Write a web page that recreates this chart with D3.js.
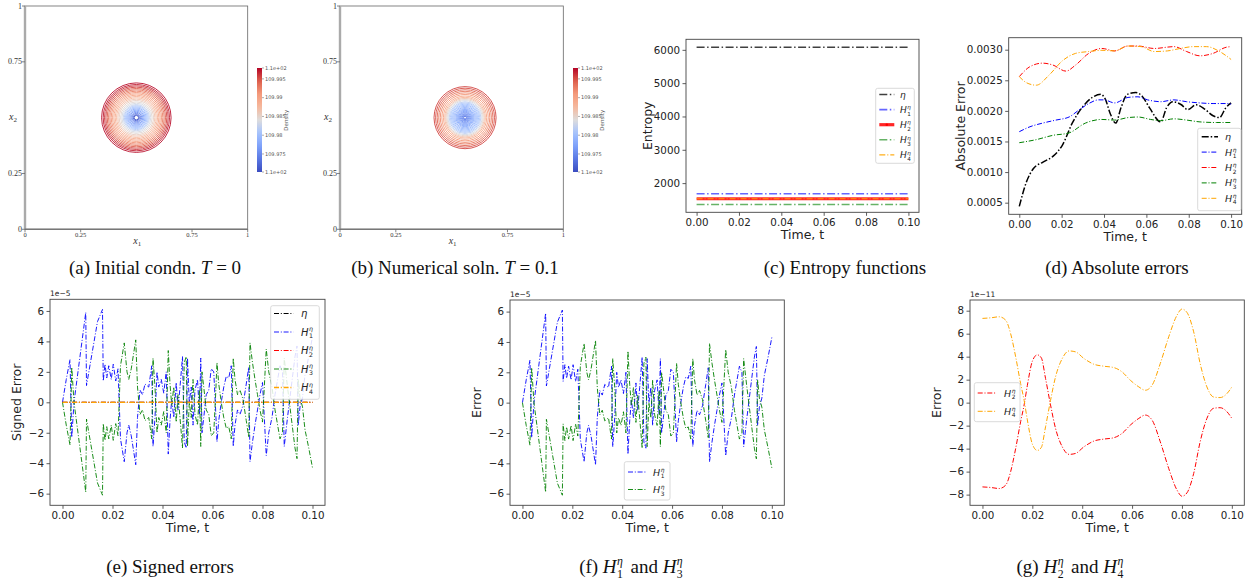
<!DOCTYPE html>
<html>
<head>
<meta charset="utf-8">
<script src="https://cdn.jsdelivr.net/npm/d3@7"></script>
<style>
  body { margin: 0; background: #fff; }
  text { font-family: "DejaVu Sans", sans-serif; }
</style>
</head>
<body>
<div id="fig"></div>
<script>
// ---------- data ----------
// (a)/(b) density contours: ring radius (domain units) and level
const ringsInitR = [0.156, 0.149, 0.143, 0.137, 0.131, 0.125, 0.119, 0.113, 0.107, 0.101, 0.095, 0.089, 0.083, 0.077, 0.071, 0.065, 0.059, 0.054, 0.049, 0.044, 0.039, 0.034, 0.029, 0.024, 0.019, 0.014, 0.010];
const ringsInitL = [109.9975, 109.997, 109.9962, 109.9955, 109.9945, 109.9935, 109.9925, 109.9915, 109.9905, 109.9895, 109.9885, 109.9875, 109.9865, 109.9855, 109.9845, 109.9835, 109.9825, 109.9815, 109.9805, 109.9795, 109.9785, 109.9775, 109.9765, 109.9755, 109.974, 109.9725, 109.971];
const ringsNumR = [0.139, 0.132, 0.125, 0.118, 0.111, 0.104, 0.097, 0.091, 0.086, 0.081, 0.076, 0.071, 0.066, 0.061, 0.056, 0.051, 0.046, 0.041, 0.037, 0.033, 0.029, 0.025, 0.021, 0.017, 0.013, 0.009, 0.006];
const ringsNumL = [109.9955, 109.995, 109.994, 109.993, 109.992, 109.991, 109.9895, 109.988, 109.9865, 109.985, 109.9835, 109.982, 109.9812, 109.9805, 109.980, 109.9795, 109.979, 109.9785, 109.978, 109.9775, 109.977, 109.9765, 109.976, 109.9755, 109.975, 109.9745, 109.974];
const centreInit = [0.5, 0.5];
const centreNum = [0.56, 0.5];
const cbarTicks = [109.975, 109.98, 109.985, 109.99, 109.995];
const cbarLabels = ["109.975", "109.98", "109.985", "109.99", "109.995"];
const cbarRange = [109.9702, 109.9979];
const unitTicks = [0, 0.25, 0.75, 1];
const unitLabels = ["0", "0.25", "0.75", "1"];

// (c) entropy functions (constant in time)
const tEntropy = [0, 0.1];
const entEta = [6080, 6080];
const entH1 = [1680, 1680];
const entH2 = [1530, 1530];
const entH3 = [1360, 1360];
const entH4 = [1530, 1530];

// (d) absolute errors [t, err]
const absEta = [[0,0.00044],[0.0035,0.00085],[0.0065,0.00105],[0.011,0.00116],[0.016,0.00126],[0.0205,0.00145],[0.025,0.0018],[0.030,0.00207],[0.0345,0.00222],[0.0385,0.00227],[0.0405,0.0022],[0.043,0.00195],[0.0455,0.0018],[0.048,0.00205],[0.051,0.00227],[0.055,0.0023],[0.058,0.00224],[0.0615,0.00205],[0.0668,0.00182],[0.0695,0.00205],[0.0725,0.00215],[0.0765,0.0021],[0.0795,0.00202],[0.0835,0.0021],[0.0875,0.00203],[0.0915,0.00192],[0.0945,0.00189],[0.0975,0.00205],[0.1,0.00213]];
const absH1 = [[0,0.00166],[0.005,0.00174],[0.011,0.0018],[0.0173,0.00185],[0.0235,0.0019],[0.028,0.00201],[0.0328,0.00212],[0.0374,0.00218],[0.040,0.00218],[0.045,0.00213],[0.0513,0.00222],[0.056,0.00223],[0.0606,0.00218],[0.0668,0.00215],[0.073,0.00218],[0.079,0.00215],[0.0853,0.00213],[0.0915,0.00212],[0.0977,0.00212],[0.1,0.00211]];
const absH2 = [[0,0.00256],[0.0049,0.00272],[0.011,0.00278],[0.0158,0.00275],[0.022,0.00265],[0.0266,0.00275],[0.0328,0.00294],[0.039,0.00302],[0.045,0.00298],[0.0513,0.00306],[0.056,0.00306],[0.0637,0.00302],[0.073,0.00305],[0.079,0.00297],[0.0853,0.0029],[0.0915,0.00294],[0.0977,0.00304],[0.1,0.00305]];
const absH3 = [[0,0.00148],[0.008,0.00153],[0.0158,0.0016],[0.0235,0.00164],[0.0312,0.0018],[0.039,0.00186],[0.045,0.00185],[0.0513,0.00189],[0.056,0.0019],[0.062,0.00186],[0.0668,0.00184],[0.073,0.00187],[0.079,0.00185],[0.0853,0.00182],[0.093,0.00181],[0.1,0.00181]];
const absH4 = [[0,0.00256],[0.0034,0.00246],[0.008,0.00242],[0.0142,0.00259],[0.0204,0.00282],[0.0266,0.00294],[0.0328,0.00297],[0.039,0.00299],[0.045,0.00298],[0.0513,0.00306],[0.0575,0.00305],[0.0637,0.00297],[0.0699,0.00298],[0.076,0.00302],[0.0822,0.00305],[0.0884,0.00305],[0.0946,0.00297],[0.1,0.00284]];

// (e)/(f) signed errors of H1 and H3, units of 1e-5
const sgnH1 = [[0,0],[0.0015,1.5],[0.003,2.8],[0.0037,-2.3],[0.0046,0],[0.0093,5.9],[0.0096,1.1],[0.014,5.3],[0.016,6.1],[0.0163,1.4],[0.017,2.5],[0.0177,1.6],[0.0185,2.4],[0.0195,1.5],[0.0203,2.5],[0.0213,1.4],[0.0222,2.2],[0.0232,-2.4],[0.0247,-3.9],[0.0258,-2.0],[0.0265,-1.5],[0.0275,-2.2],[0.0293,-4.1],[0.030,-1.0],[0.031,0.8],[0.032,0.5],[0.033,1.2],[0.0345,1.0],[0.0357,2.4],[0.0362,-2.9],[0.037,-1.0],[0.0378,2.0],[0.0385,1.0],[0.0395,1.5],[0.0405,0.6],[0.0415,2.0],[0.0423,-3.4],[0.043,-1.2],[0.0437,0.2],[0.0445,-1.0],[0.0455,1.3],[0.0462,-0.5],[0.047,1.0],[0.048,3.0],[0.0487,-2.6],[0.0495,-3.0],[0.050,2.9],[0.0507,0.0],[0.0515,1.0],[0.0522,-1.5],[0.053,0.8],[0.054,1.5],[0.0548,-0.8],[0.0553,2.9],[0.0558,-2.0],[0.0565,-1.0],[0.0575,0.5],[0.0585,0.8],[0.0595,2.2],[0.0605,2.0],[0.0612,-0.3],[0.0618,-2.6],[0.0625,-1.2],[0.0635,0.0],[0.0645,1.0],[0.0655,1.7],[0.0665,1.6],[0.0675,2.4],[0.0683,-2.9],[0.069,-1.5],[0.070,-0.5],[0.071,-0.8],[0.0722,-0.2],[0.0735,1.2],[0.0745,2.3],[0.075,-3.9],[0.076,-2.6],[0.077,-1.5],[0.078,-0.5],[0.079,0.5],[0.080,1.3],[0.0815,-3.5],[0.0825,-2.0],[0.0838,-1.0],[0.085,0.5],[0.087,2.4],[0.088,2.0],[0.0887,-2.9],[0.090,-1.0],[0.0915,1.0],[0.093,3.0],[0.0938,3.7],[0.0943,-1.5],[0.095,-0.3],[0.096,0.3],[0.097,1.8],[0.0985,3.0],[0.1,4.3]];
const sgnH3 = [[0,0],[0.0015,-1.5],[0.003,-2.8],[0.0037,2.3],[0.0046,0],[0.0093,-5.9],[0.0096,-1.1],[0.014,-5.3],[0.016,-6.1],[0.0163,-1.4],[0.017,-2.5],[0.0177,-1.6],[0.0185,-2.4],[0.0195,-1.5],[0.0203,-2.5],[0.0213,-1.4],[0.0222,-2.2],[0.0232,2.4],[0.0247,3.9],[0.0258,2.0],[0.0265,1.5],[0.0275,2.2],[0.0293,4.1],[0.030,1.0],[0.031,-0.8],[0.032,-0.5],[0.033,-1.2],[0.0345,-1.0],[0.0357,-2.4],[0.0362,2.9],[0.037,1.0],[0.0378,-2.0],[0.0385,-1.0],[0.0395,-1.5],[0.0405,-0.6],[0.0415,-2.0],[0.0423,3.4],[0.043,1.2],[0.0437,-0.2],[0.0445,1.0],[0.0455,-1.3],[0.0462,0.5],[0.047,-1.0],[0.048,-3.0],[0.0487,2.6],[0.0495,3.0],[0.050,-2.9],[0.0507,0.0],[0.0515,-1.0],[0.0522,1.5],[0.053,-0.8],[0.054,-1.5],[0.0548,0.8],[0.0553,-2.9],[0.0558,2.0],[0.0565,1.0],[0.0575,-0.5],[0.0585,-0.8],[0.0595,-2.2],[0.0605,-2.0],[0.0612,0.3],[0.0618,2.6],[0.0625,1.2],[0.0635,0.0],[0.0645,-1.0],[0.0655,-1.7],[0.0665,-1.6],[0.0675,-2.4],[0.0683,2.9],[0.069,1.5],[0.070,0.5],[0.071,0.8],[0.0722,0.2],[0.0735,-1.2],[0.0745,-2.3],[0.075,3.9],[0.076,2.6],[0.077,1.5],[0.078,0.5],[0.079,-0.5],[0.080,-1.3],[0.0815,3.5],[0.0825,2.0],[0.0838,1.0],[0.085,-0.5],[0.087,-2.4],[0.088,-2.0],[0.0887,2.9],[0.090,1.0],[0.0915,-1.0],[0.093,-3.0],[0.0938,-3.7],[0.0943,1.5],[0.095,0.3],[0.096,-0.3],[0.097,-1.8],[0.0985,-3.0],[0.1,-4.3]];
// signed error of eta, units of 1e-5
const sgnEta = [[0,0],[0.05,0],[0.1,0]];

// (g) signed errors of H2 and H4, units of 1e-11
const sgnH2 = [[0,-7.33],[0.0033,-7.38],[0.0067,-7.47],[0.0093,-7.18],[0.0113,-6.0],[0.0133,-4.0],[0.0153,-1.66],[0.0167,-0.2],[0.018,1.5],[0.020,3.6],[0.022,4.16],[0.0236,3.9],[0.0253,2.1],[0.0273,-0.2],[0.0293,-2.24],[0.032,-3.84],[0.0347,-4.5],[0.0373,-4.42],[0.0407,-3.84],[0.0447,-3.34],[0.0487,-3.17],[0.0527,-3.05],[0.056,-2.67],[0.0593,-1.95],[0.0627,-1.37],[0.0653,-1.08],[0.068,-1.51],[0.0713,-3.4],[0.0747,-5.73],[0.078,-7.6],[0.080,-8.14],[0.082,-7.85],[0.0847,-6.16],[0.0873,-3.4],[0.090,-1.37],[0.0927,-0.49],[0.0953,-0.44],[0.098,-0.78],[0.1,-1.37]];
const sgnH4 = [[0,7.33],[0.0033,7.38],[0.0067,7.47],[0.0093,7.18],[0.0113,6.0],[0.0133,4.0],[0.0153,1.66],[0.0167,0.2],[0.018,-1.5],[0.020,-3.6],[0.022,-4.16],[0.0236,-3.9],[0.0253,-2.1],[0.0273,0.2],[0.0293,2.24],[0.032,3.84],[0.0347,4.5],[0.0373,4.42],[0.0407,3.84],[0.0447,3.34],[0.0487,3.17],[0.0527,3.05],[0.056,2.67],[0.0593,1.95],[0.0627,1.37],[0.0653,1.08],[0.068,1.51],[0.0713,3.4],[0.0747,5.73],[0.078,7.6],[0.080,8.14],[0.082,7.85],[0.0847,6.16],[0.0873,3.4],[0.090,1.37],[0.0927,0.49],[0.0953,0.44],[0.098,0.78],[0.1,1.37]];

const timeTicks = [0, 0.02, 0.04, 0.06, 0.08, 0.1];

// ---------- setup ----------
const svg = d3.select("#fig").append("svg")
  .attr("width", 1255).attr("height", 583)
  .style("display", "block");

// coolwarm-like diverging map over the colour bar range
const cwStops = ["#3b4cc0", "#5a78e4", "#7ea1fa", "#a5c3fe", "#dddcdc", "#f6b89c", "#f49a7b", "#de604d", "#b40426"];
const coolwarm = d3.scaleLinear()
  .domain(cwStops.map((c, i) => cbarRange[0] + i / (cwStops.length - 1) * (cbarRange[1] - cbarRange[0])))
  .range(cwStops)
  .interpolate(d3.interpolateRgb);

let clipId = 0;
const serif = "'Liberation Serif', 'DejaVu Serif', serif";

// H^eta_n in matplotlib mathtext style, returns right edge
function mathH(g, x, y, n, fs, fam, col) {
  let h = g.append("text").attr("x", x).attr("y", y)
    .style("font-family", fam).style("font-style", "italic")
    .style("font-size", fs + "px").attr("fill", col || "#222").text("H");
  let w = h.node().getComputedTextLength();
  g.append("text").attr("x", x + w + 0.5).attr("y", y - fs * 0.42)
    .style("font-family", fam).style("font-style", "italic")
    .style("font-size", fs * 0.62 + "px").attr("fill", col || "#222").text("η");
  g.append("text").attr("x", x + w + 0.5).attr("y", y + fs * 0.28)
    .style("font-family", fam)
    .style("font-size", fs * 0.62 + "px").attr("fill", col || "#222").text(n);
  return x + w + 0.5 + fs * 0.4;
}

// ---------- contour panels (a), (b) ----------
function contourPanel(cfg) {
  const g = svg.append("g");
  const x = d3.scaleLinear().domain([0, 1]).range([cfg.left, cfg.right]);
  const y = d3.scaleLinear().domain([0, 1]).range([cfg.bottom, cfg.top]);

  g.selectAll("circle.ring").data(cfg.radii).join("circle")
    .attr("class", "ring")
    .attr("cx", x(cfg.centre[0])).attr("cy", y(cfg.centre[1]))
    .attr("r", d => x(d) - x(0))
    .attr("fill", "none")
    .attr("stroke", (d, i) => coolwarm(cfg.levels[i]))
    .attr("stroke-width", 0.9);

  g.append("rect")
    .attr("x", x(0)).attr("y", y(1))
    .attr("width", x(1) - x(0)).attr("height", y(0) - y(1))
    .attr("fill", "none").attr("stroke", "#666").attr("stroke-width", 0.8);
  g.append("line").attr("x1", x(0)).attr("x2", x(0)).attr("y1", y(1)).attr("y2", y(0))
    .attr("stroke", "#aaa").attr("stroke-width", 2.4);
  g.append("line").attr("x1", x(0)).attr("x2", x(1)).attr("y1", y(0)).attr("y2", y(0))
    .attr("stroke", "#777").attr("stroke-width", 1.4);

  // ticks
  unitTicks.forEach((v, i) => {
    g.append("line").attr("x1", x(0) - 3).attr("x2", x(0)).attr("y1", y(v)).attr("y2", y(v))
      .attr("stroke", "#666").attr("stroke-width", 0.8);
    g.append("text").attr("x", x(0) - 3).attr("y", y(v) + 2.5)
      .attr("text-anchor", "end").style("font-family", serif).style("font-size", "8px")
      .attr("fill", "#333").text(unitLabels[i]);
    g.append("line").attr("x1", x(v)).attr("x2", x(v)).attr("y1", y(0)).attr("y2", y(0) + 3)
      .attr("stroke", "#666").attr("stroke-width", 0.8);
    g.append("text").attr("x", x(v)).attr("y", y(0) + 8)
      .attr("text-anchor", "middle").style("font-family", serif).style("font-size", "6.5px")
      .attr("fill", "#333").text(unitLabels[i]);
  });
  // axis names
  let t1 = g.append("text").attr("x", (x(0) + x(1)) / 2 - 3).attr("y", y(0) + 15)
    .style("font-family", serif).style("font-size", "10px").attr("fill", "#333");
  t1.append("tspan").style("font-style", "italic").text("x");
  t1.append("tspan").attr("dy", 2).style("font-size", "7px").text("1");
  let t2 = g.append("text").attr("x", x(0) - 16).attr("y", y(0.5) + 2)
    .style("font-family", serif).style("font-size", "10px").attr("fill", "#333");
  t2.append("tspan").style("font-style", "italic").text("x");
  t2.append("tspan").attr("dy", 2).style("font-size", "7px").text("2");

  // colour bar
  const cb = d3.scaleLinear().domain(cbarRange).range([172, 68]);
  const gid = "cbgrad" + cfg.id;
  const grad = svg.append("defs").append("linearGradient").attr("id", gid)
    .attr("x1", 0).attr("x2", 0).attr("y1", 1).attr("y2", 0);
  d3.range(0, 1.0001, 0.05).forEach(f => {
    grad.append("stop").attr("offset", f)
      .attr("stop-color", coolwarm(cbarRange[0] + f * (cbarRange[1] - cbarRange[0])));
  });
  g.append("rect").attr("x", cfg.cbx).attr("y", cb(cbarRange[1]))
    .attr("width", 5).attr("height", cb(cbarRange[0]) - cb(cbarRange[1]))
    .attr("fill", `url(#${gid})`);
  const cbLab = [[cbarRange[1], "1.1e+02"]].concat(cbarTicks.map((v, i) => [v, cbarLabels[i]]), [[cbarRange[0], "1.1e+02"]]);
  cbLab.forEach(([v, lab]) => {
    g.append("line").attr("x1", cfg.cbx + 5).attr("x2", cfg.cbx + 7).attr("y1", cb(v)).attr("y2", cb(v))
      .attr("stroke", "#777").attr("stroke-width", 0.6);
    g.append("text").attr("x", cfg.cbx + 8).attr("y", cb(v) + 1.8)
      .style("font-size", "5px").attr("fill", "#555").text(lab);
  });
  g.append("text").attr("transform", `translate(${cfg.cbx + 31},${cb(109.984)}) rotate(-90)`)
    .attr("text-anchor", "middle").style("font-size", "5.5px").attr("fill", "#555").text("Density");
}

contourPanel({ id: "a", left: 25, right: 247.7, top: 6, bottom: 229.3, centre: centreInit,
  radii: ringsInitR, levels: ringsInitL, cbx: 257 });
contourPanel({ id: "b", left: 340, right: 563.3, top: 6, bottom: 229.3, centre: centreNum,
  radii: ringsNumR, levels: ringsNumL, cbx: 573 });

// ---------- matplotlib-like line panels ----------
function linePanel(cfg) {
  const g = svg.append("g");
  const x = d3.scaleLinear().domain([-0.005, 0.105]).range([cfg.left, cfg.right]);
  const y = d3.scaleLinear().domain(cfg.ydom).range([cfg.bottom, cfg.top]);
  const cid = "clip" + (clipId++);
  svg.append("defs").append("clipPath").attr("id", cid).append("rect")
    .attr("x", cfg.left).attr("y", cfg.top)
    .attr("width", cfg.right - cfg.left).attr("height", cfg.bottom - cfg.top);

  const ax = g.append("g").attr("transform", `translate(0,${cfg.bottom})`)
    .call(d3.axisBottom(x).tickValues(timeTicks).tickFormat(d3.format(".2f"))
      .tickSize(3.5).tickPadding(2.5));
  const ay = g.append("g").attr("transform", `translate(${cfg.left},0)`)
    .call(d3.axisLeft(y).tickValues(cfg.yticks).tickFormat(cfg.yfmt)
      .tickSize(3.5).tickPadding(2.5));
  [ax, ay].forEach(a => {
    a.select(".domain").remove();
    a.selectAll(".tick line").attr("stroke", "#333").attr("stroke-width", 0.8);
    a.selectAll(".tick text").style("font-size", "10.3px").attr("fill", "#222")
      .style("font-family", "'DejaVu Sans', sans-serif");
  });

  const lines = g.append("g").attr("clip-path", `url(#${cid})`);
  cfg.series.forEach(s => {
    const line = d3.line().x(d => x(d[0])).y(d => y(d[1] * (s.scale || 1)))
      .curve(s.curve || d3.curveLinear);
    lines.append("path").datum(s.data)
      .attr("d", line).attr("fill", "none")
      .attr("stroke", s.color).attr("stroke-width", s.width || 1)
      .attr("stroke-dasharray", s.dash || "5,1.8,1,1.8")
      .attr("stroke-opacity", s.alpha || 1);
  });

  g.append("rect").attr("x", cfg.left).attr("y", cfg.top)
    .attr("width", cfg.right - cfg.left).attr("height", cfg.bottom - cfg.top)
    .attr("fill", "none").attr("stroke", "#444").attr("stroke-width", 0.9);

  g.append("text").attr("x", (cfg.left + cfg.right) / 2).attr("y", cfg.bottom + 27)
    .attr("text-anchor", "middle").style("font-size", "12.5px").attr("fill", "#222")
    .text("Time, t");
  g.append("text").attr("transform", `translate(${cfg.ylabelX},${(cfg.top + cfg.bottom) / 2}) rotate(-90)`)
    .attr("text-anchor", "middle").attr("dy", "0.35em").style("font-size", "12.5px").attr("fill", "#222")
    .text(cfg.ylabel);
  if (cfg.offset) {
    g.append("text").attr("x", cfg.left).attr("y", cfg.top - 3)
      .style("font-size", "7.5px").attr("fill", "#222").text(cfg.offset);
  }

  if (cfg.legend) {
    const L = cfg.legend;
    g.append("rect").attr("x", L.x0).attr("y", L.y0)
      .attr("width", L.x1 - L.x0).attr("height", L.y1 - L.y0).attr("rx", 2)
      .attr("fill", "#fff").attr("fill-opacity", 0.85)
      .attr("stroke", "#d0d0d0").attr("stroke-width", 0.8);
    L.items.forEach((it, i) => {
      const yy = L.row0 + i * L.rowH;
      const s = cfg.series[it.s];
      g.append("line").attr("x1", L.lx0).attr("x2", L.lx1).attr("y1", yy).attr("y2", yy)
        .attr("stroke", s.color).attr("stroke-width", s.width || 1)
        .attr("stroke-dasharray", s.dash || "5,1.8,1,1.8")
        .attr("stroke-opacity", s.alpha || 1);
      if (s.marker) {
        g.append("circle").attr("cx", (L.lx0 + L.lx1) / 2).attr("cy", yy).attr("r", 1.3)
          .attr("fill", s.color);
      }
      if (it.n === "eta") {
        g.append("text").attr("x", L.tx).attr("y", yy + 3.5)
          .style("font-size", L.fs + "px").style("font-style", "italic")
          .attr("fill", "#222").text("η");
      } else {
        mathH(g, L.tx, yy + 3.5, it.n, L.fs, "'DejaVu Sans', sans-serif");
      }
    });
  }
  return g;
}

const fmt2 = d3.format(".0f");

// (c) entropy
linePanel({
  left: 686, right: 919, top: 39.3, bottom: 212.3,
  ydom: [1124, 6316], yticks: [2000, 3000, 4000, 5000, 6000], yfmt: fmt2,
  ylabel: "Entropy", ylabelX: 648,
  series: [
    { data: tEntropy.map((t, i) => [t, entEta[i]]), color: "#000", width: 1.5, alpha: 0.75, dash: "8,2.5,1.5,2.5" },
    { data: tEntropy.map((t, i) => [t, entH1[i]]), color: "#0000ff", width: 1.6, alpha: 0.6, dash: "8,2.5,1.5,2.5" },
    { data: tEntropy.map((t, i) => [t, entH2[i]]), color: "#ff0000", width: 3.2, alpha: 0.85, dash: "none", marker: true },
    { data: tEntropy.map((t, i) => [t, entH3[i]]), color: "#008000", width: 1.6, alpha: 0.6, dash: "8,2.5,1.5,2.5" },
    { data: tEntropy.map((t, i) => [t, entH4[i]]), color: "#ffa500", width: 1.2, alpha: 0.9, dash: "6,2,1,2" }
  ],
  legend: { x0: 875.7, x1: 914.3, y0: 88.3, y1: 163.3, row0: 94.5, rowH: 15.1,
    lx0: 879.3, lx1: 894.3, tx: 900, fs: 9,
    items: [{ s: 0, n: "eta" }, { s: 1, n: "1" }, { s: 2, n: "2" }, { s: 3, n: "3" }, { s: 4, n: "4" }] }
});

// (d) absolute errors
linePanel({
  left: 1008.7, right: 1241.7, top: 37.7, bottom: 214.3,
  ydom: [0.00031, 0.003196], yticks: [0.0005, 0.001, 0.0015, 0.002, 0.0025, 0.003], yfmt: d3.format(".4f"),
  ylabel: "Absolute Error", ylabelX: 961,
  series: [
    { data: absEta, color: "#000", width: 1.5, dash: "7,2,1.5,2", curve: d3.curveMonotoneX },
    { data: absH1, color: "#0000ff", width: 1, curve: d3.curveMonotoneX },
    { data: absH2, color: "#ff0000", width: 1, curve: d3.curveMonotoneX },
    { data: absH3, color: "#008000", width: 1, curve: d3.curveMonotoneX },
    { data: absH4, color: "#ffa500", width: 1, curve: d3.curveMonotoneX }
  ],
  legend: { x0: 1197.7, x1: 1241, y0: 128.3, y1: 210.7, row0: 136.7, rowH: 15.4,
    lx0: 1201.7, lx1: 1218, tx: 1225, fs: 9.5,
    items: [{ s: 0, n: "eta" }, { s: 1, n: "1" }, { s: 2, n: "2" }, { s: 3, n: "3" }, { s: 4, n: "4" }] }
});

const fmtInt = d3.format(".0f");
const minus = v => fmtInt(v).replace("-", "−");

// (e) signed errors, all five
linePanel({
  left: 50, right: 325, top: 299.3, bottom: 505.3,
  ydom: [-6.765, 6.765], yticks: [-6, -4, -2, 0, 2, 4, 6], yfmt: minus,
  ylabel: "Signed Error", ylabelX: 17, offset: "1e−5",
  series: [
    { data: sgnEta, color: "#000", width: 1 },
    { data: sgnH1, color: "#0000ff", width: 0.9 },
    { data: sgnH2, color: "#ff0000", width: 1, scale: 1e-6 },
    { data: sgnH3, color: "#008000", width: 0.9 },
    { data: sgnH4, color: "#ffa500", width: 1.3, scale: 1e-6 }
  ],
  legend: { x0: 270.7, x1: 319.3, y0: 305.7, y1: 399.3, row0: 313.5, rowH: 18.5,
    lx0: 274, lx1: 293.3, tx: 301, fs: 10,
    items: [{ s: 0, n: "eta" }, { s: 1, n: "1" }, { s: 2, n: "2" }, { s: 3, n: "3" }, { s: 4, n: "4" }] }
});

// (f) H1 and H3
linePanel({
  left: 510, right: 784.3, top: 300, bottom: 505.3,
  ydom: [-6.765, 6.765], yticks: [-6, -4, -2, 0, 2, 4, 6], yfmt: minus,
  ylabel: "Error", ylabelX: 477, offset: "1e−5",
  series: [
    { data: sgnH1, color: "#0000ff", width: 0.9 },
    { data: sgnH3, color: "#008000", width: 0.9 }
  ],
  legend: { x0: 624.3, x1: 670, y0: 461.7, y1: 500, row0: 472, rowH: 17.5,
    lx0: 628, lx1: 646.7, tx: 653, fs: 9.5,
    items: [{ s: 0, n: "1" }, { s: 1, n: "3" }] }
});

// (g) H2 and H4
linePanel({
  left: 970, right: 1244.3, top: 300, bottom: 505.3,
  ydom: [-8.93, 8.93], yticks: [-8, -6, -4, -2, 0, 2, 4, 6, 8], yfmt: minus,
  ylabel: "Error", ylabelX: 937, offset: "1e−11",
  series: [
    { data: sgnH2, color: "#ff0000", width: 1, curve: d3.curveMonotoneX },
    { data: sgnH4, color: "#ffa500", width: 1, curve: d3.curveMonotoneX }
  ],
  legend: { x0: 974.3, x1: 1020, y0: 382.7, y1: 421.7, row0: 393, rowH: 18.3,
    lx0: 977.7, lx1: 996.7, tx: 1004, fs: 9.5,
    items: [{ s: 0, n: "2" }, { s: 1, n: "4" }] }
});

// ---------- captions ----------
function caption(cx, baseline, build) {
  const g = svg.append("g");
  let xx = 0;
  const fs = 19;
  const put = (txt, italic) => {
    const t = g.append("text").attr("x", xx).attr("y", 0)
      .style("font-family", serif).style("font-size", fs + "px")
      .style("font-style", italic ? "italic" : "normal").attr("fill", "#111")
      .attr("xml:space", "preserve").text(txt);
    xx += t.node().getComputedTextLength();
  };
  const H = n => { xx = mathH(g, xx, 0, n, fs, serif, "#111") + 1; };
  build(put, H);
  const bb = g.node().getBBox();
  g.attr("transform", `translate(${cx - bb.x - bb.width / 2},${baseline})`);
}
caption(155, 274, (p) => { p("(a) Initial condn. "); p("T", true); p(" = 0"); });
caption(455, 274, (p) => { p("(b) Numerical soln. "); p("T", true); p(" = 0.1"); });
caption(845, 274, (p) => { p("(c) Entropy functions"); });
caption(1117, 274, (p) => { p("(d) Absolute errors"); });
caption(170, 573, (p) => { p("(e) Signed errors"); });
caption(631, 573, (p, H) => { p("(f) "); H("1"); p(" and "); H("3"); });
caption(1070, 573, (p, H) => { p("(g) "); H("2"); p(" and "); H("4"); });
</script>
</body>
</html>
